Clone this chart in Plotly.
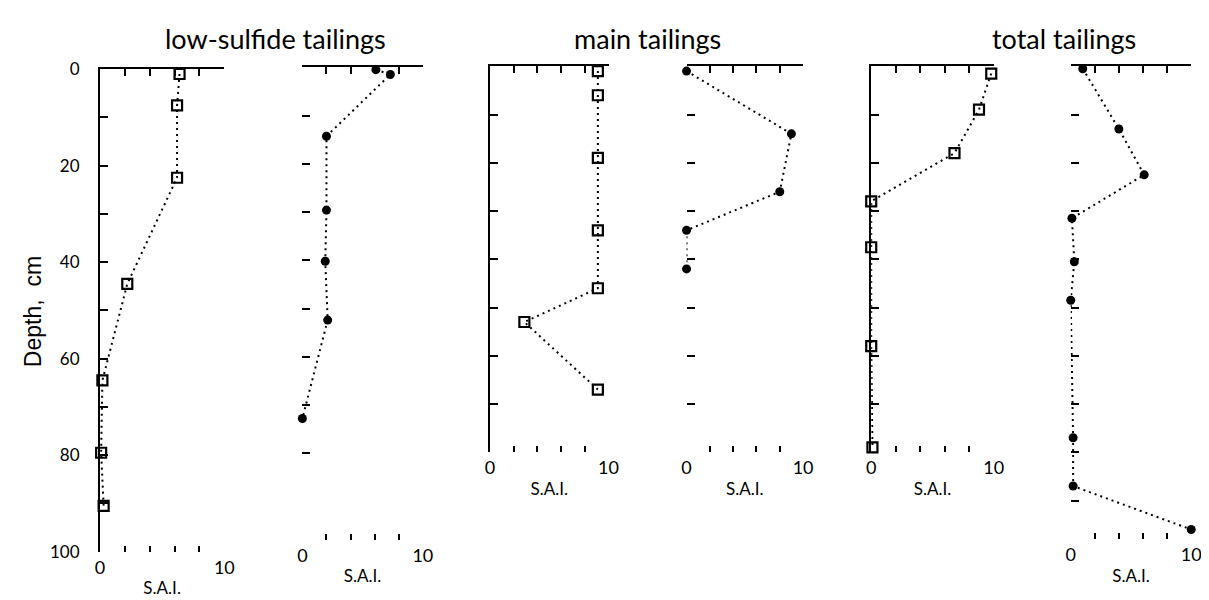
import plotly.graph_objects as go

W, H = 1209, 600

# ---------------- data ----------------
# low-sulfide tailings
ls_sq_depth = [1, 7.5, 22.5, 44.5, 64.5, 79.5, 90.5]
ls_sq_sai = [6.4, 6.2, 6.2, 2.2, 0.2, 0.1, 0.3]
ls_dot_depth = [0.5, 1.5, 14.3, 29.6, 40.2, 52.4, 72.8]
ls_dot_sai = [6.1, 7.3, 2.0, 2.0, 1.9, 2.1, 0.0]
# main tailings
mt_sq_depth = [1, 6, 19, 34, 46, 53, 67]
mt_sq_sai = [9.1, 9.1, 9.1, 9.1, 9.1, 2.9, 9.1]
mt_dot_depth = [1, 14, 26, 34, 42]
mt_dot_sai = [0.0, 9.0, 8.0, 0.0, 0.0]
# total tailings
tt_sq_depth = [1.5, 9, 18, 28, 37.5, 58, 79]
tt_sq_sai = [9.8, 8.8, 6.8, 0.0, 0.0, 0.0, 0.1]
tt_dot_depth = [0.5, 13, 22.5, 31.5, 40.5, 48.5, 77, 87, 96]
tt_dot_sai = [1.0, 4.0, 6.1, 0.1, 0.3, 0.0, 0.2, 0.2, 10.0]

titles = ["low-sulfide tailings", "main tailings", "total tailings"]
depth_labels = [0, 20, 40, 60, 80, 100]
sai_ticks = [0, 2, 4, 6, 8, 10]
sai_text = ["0", "", "", "", "", "10"]

# ---------------- layout geometry (pixels) ----------------
# (x0, x10, y_top, y_bottom, depth_max, show_yline, ytickvals)
panels = [
    (88, 214, 52, 552, 100, True, list(range(0, 101, 10))),
    (293, 415, 50, 540, 98, False, list(range(10, 81, 10))),
    (483, 603, 49, 449, 80, True, list(range(10, 71, 10))),
    (682, 800, 49, 449, 80, False, list(range(10, 71, 10))),
    (869, 993, 49, 449, 80, True, list(range(10, 71, 10))),
    (1071, 1193, 49, 539, 98, False, list(range(10, 91, 10))),
]
series = [
    ("sq", ls_sq_sai, ls_sq_depth),
    ("dot", ls_dot_sai, ls_dot_depth),
    ("sq", mt_sq_sai, mt_sq_depth),
    ("dot", mt_dot_sai, mt_dot_depth),
    ("sq", tt_sq_sai, tt_sq_depth),
    ("dot", tt_dot_sai, tt_dot_depth),
]

FONT = "Lato"
fig = go.Figure()
layout = dict(
    width=W, height=H, margin=dict(l=0, r=0, t=0, b=0),
    paper_bgcolor="white", plot_bgcolor="white", showlegend=False,
    font=dict(family=FONT, color="black", size=17),
)

for i, (p, s) in enumerate(zip(panels, series)):
    x0, x10, yt, yb, dmax, yline, ytv = p
    kind, xs, ys = s
    top_id = 2 * i + 1
    bot_id = 2 * i + 2
    yid = i + 1
    xdom = [x0 / W, x10 / W]
    ydom = [1 - yb / H, 1 - yt / H]
    tname = "xaxis" if top_id == 1 else f"xaxis{top_id}"
    bname = f"xaxis{bot_id}"
    yname = "yaxis" if yid == 1 else f"yaxis{yid}"
    xref_top = "x" if top_id == 1 else f"x{top_id}"
    yref = "y" if yid == 1 else f"y{yid}"

    layout[tname] = dict(
        domain=xdom, range=[0, 10], anchor=yref, side="top",
        showline=True, linecolor="black", linewidth=1.8,
        ticks="inside", ticklen=7, tickwidth=1.6, tickcolor="black",
        tickvals=sai_ticks, showticklabels=False,
        showgrid=False, zeroline=False, fixedrange=True,
    )
    layout[bname] = dict(
        domain=xdom, range=[0, 10], anchor=yref, side="bottom",
        overlaying=xref_top,
        showline=False, ticks="inside", ticklen=6, tickwidth=1.6, tickcolor="black",
        tickvals=sai_ticks, ticktext=sai_text, ticklabelstandoff=3,
        tickfont=dict(family=FONT, size=18),
        title=dict(text="S.A.I.", font=dict(family=FONT, size=17), standoff=5),
        showgrid=False, zeroline=False, fixedrange=True,
    )
    ydict = dict(
        domain=ydom, range=[dmax, 0], anchor=xref_top,
        showline=yline, linecolor="black", linewidth=2,
        ticks="inside", ticklen=8, tickwidth=1.6, tickcolor="black",
        tickvals=ytv, showgrid=False, zeroline=False, fixedrange=True,
    )
    if i == 0:
        ydict["ticktext"] = [str(v) if v in depth_labels else "" for v in ytv]
        ydict["tickfont"] = dict(family=FONT, size=17)
        ydict["ticklabelstandoff"] = 15
    else:
        ydict["showticklabels"] = False
    layout[yname] = ydict

    if kind == "sq":
        marker = dict(symbol="square-open", size=10, color="black",
                      line=dict(color="black", width=2.2))
    else:
        marker = dict(symbol="circle", size=9, color="black")
    fig.add_trace(go.Scatter(
        x=xs, y=ys, mode="lines+markers", xaxis=xref_top, yaxis=yref,
        line=dict(color="black", width=2, dash="2px,4px"),
        marker=marker, cliponaxis=False, hoverinfo="skip",
    ))
    # keep the overlaid bottom axis alive
    fig.add_trace(go.Scatter(
        x=[None], y=[None], xaxis=f"x{bot_id}", yaxis=yref,
        mode="markers", hoverinfo="skip",
    ))

annotations = []
title_pos = [(266, 20), (642, 20), (1064, 20)]
for t, (tx, ty) in zip(titles, title_pos):
    annotations.append(dict(
        text=t, x=tx / W, y=1 - ty / H, xref="paper", yref="paper",
        showarrow=False, xanchor="center", yanchor="middle",
        font=dict(family=FONT, size=27, color="black"),
    ))
annotations.append(dict(
    text="Depth,  cm", x=21 / W, y=1 - 303 / H, xref="paper", yref="paper",
    showarrow=False, textangle=-90, xanchor="center", yanchor="middle",
    font=dict(family="Liberation Sans", size=23, color="black"),
))
layout["annotations"] = annotations

fig.update_layout(**layout)
fig.write_html("out.html")
